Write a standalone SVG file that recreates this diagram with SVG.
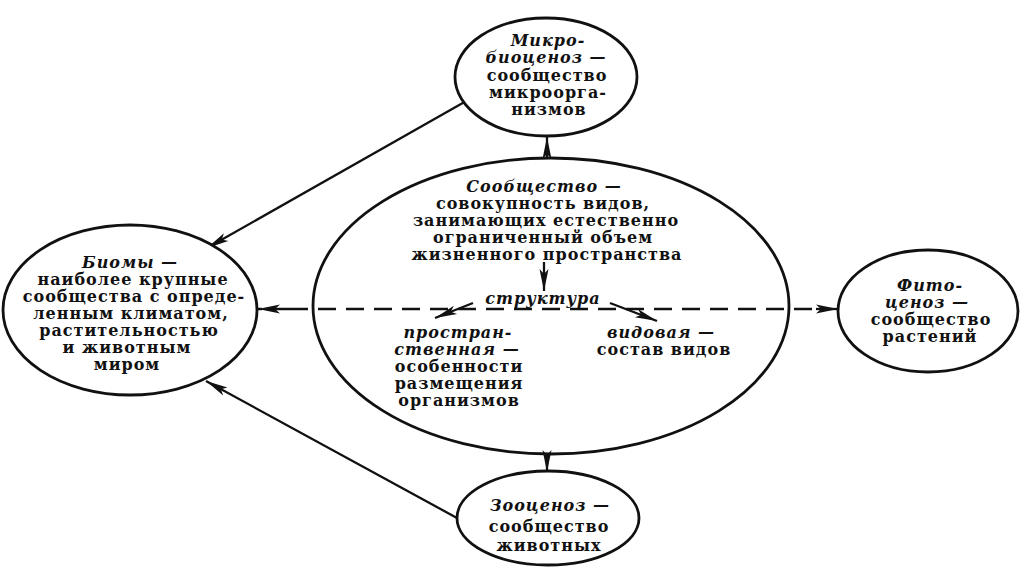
<svg xmlns="http://www.w3.org/2000/svg" width="1024" height="571" viewBox="0 0 1024 571">
<defs>
<style>
.n{fill:#fff;stroke:#111;stroke-width:2.8}
.o{fill:none;stroke:#111;stroke-width:2.8}
.t{font-family:"DejaVu Serif","Liberation Serif",serif;font-weight:bold;font-size:16px;letter-spacing:1px;fill:#111;text-anchor:middle}
.i{font-style:italic}
.c{fill:none;stroke:#111;stroke-width:2.3}
.d{fill:none;stroke:#111;stroke-width:2.3;stroke-dasharray:18 10}
</style>
<marker id="a" viewBox="0 0 22 12" refX="22" refY="6" markerWidth="22" markerHeight="12" markerUnits="userSpaceOnUse" orient="auto">
<path d="M0,1.5 L22,6 L0,10.5 L5,6 Z" fill="#111"/>
</marker>
</defs>
<rect width="1024" height="571" fill="#fff"/>
<g id="connectors">
<line class="c" x1="547" y1="157" x2="547" y2="137" marker-end="url(#a)"/>
<line class="c" x1="547" y1="454" x2="547" y2="472" marker-end="url(#a)"/>
<line class="c" x1="468" y1="100" x2="207" y2="248" marker-end="url(#a)"/>
<line class="c" x1="457" y1="518" x2="206" y2="381" marker-end="url(#a)"/>
<line class="d" x1="290" y1="309" x2="258" y2="309" marker-end="url(#a)"/>
<line class="d" x1="290" y1="309" x2="816" y2="309"/>
<line class="c" x1="816" y1="309" x2="838" y2="309" marker-end="url(#a)"/>
<line class="c" x1="544" y1="262" x2="544" y2="291" marker-end="url(#a)"/>
<line class="c" x1="473" y1="303" x2="435" y2="318" marker-end="url(#a)"/>
<line class="c" x1="610" y1="303" x2="657" y2="321" marker-end="url(#a)"/>
</g>
<g id="micro">
<ellipse class="n" cx="546" cy="77" rx="91" ry="59"/>
<text class="t i" x="548" y="46">Микро-</text>
<text class="t i" x="546" y="63">биоценоз —</text>
<text class="t" x="547" y="81">сообщество</text>
<text class="t" x="548" y="98">микроорга-</text>
<text class="t" x="549" y="115">низмов</text>
</g>
<g id="community">
<ellipse class="o" cx="551" cy="306" rx="238" ry="148"/>
<text class="t i" x="544" y="192">Сообщество —</text>
<text class="t" x="543" y="209">совокупность видов,</text>
<text class="t" x="546" y="226">занимающих естественно</text>
<text class="t" x="543" y="243">ограниченный объем</text>
<text class="t" x="547" y="260">жизненного пространства</text>
<text class="t i" x="543" y="304">структура</text>
<text class="t i" x="458" y="338">простран-</text>
<text class="t i" x="457" y="355">ственная —</text>
<text class="t" x="459" y="372">особенности</text>
<text class="t" x="459" y="389">размещения</text>
<text class="t" x="459" y="406">организмов</text>
<text class="t i" x="661" y="338">видовая —</text>
<text class="t" x="664" y="355">состав видов</text>
</g>
<g id="biomes">
<ellipse class="n" cx="130" cy="310" rx="127" ry="85"/>
<text class="t i" x="130" y="268">Биомы —</text>
<text class="t" x="133" y="285">наиболее крупные</text>
<text class="t" x="134" y="302">сообщества с опреде-</text>
<text class="t" x="131" y="319">ленным климатом,</text>
<text class="t" x="129" y="336">растительностью</text>
<text class="t" x="127" y="353">и животным</text>
<text class="t" x="127" y="370">миром</text>
</g>
<g id="phyto">
<ellipse class="n" cx="928" cy="311" rx="90" ry="61"/>
<text class="t i" x="930" y="291">Фито-</text>
<text class="t i" x="927" y="308">ценоз —</text>
<text class="t" x="931" y="325">сообщество</text>
<text class="t" x="930" y="342">растений</text>
</g>
<g id="zoo">
<ellipse class="n" cx="548" cy="518" rx="91" ry="47"/>
<text class="t i" x="550" y="511">Зооценоз —</text>
<text class="t" x="549" y="532">сообщество</text>
<text class="t" x="549" y="551">животных</text>
</g>
</svg>
